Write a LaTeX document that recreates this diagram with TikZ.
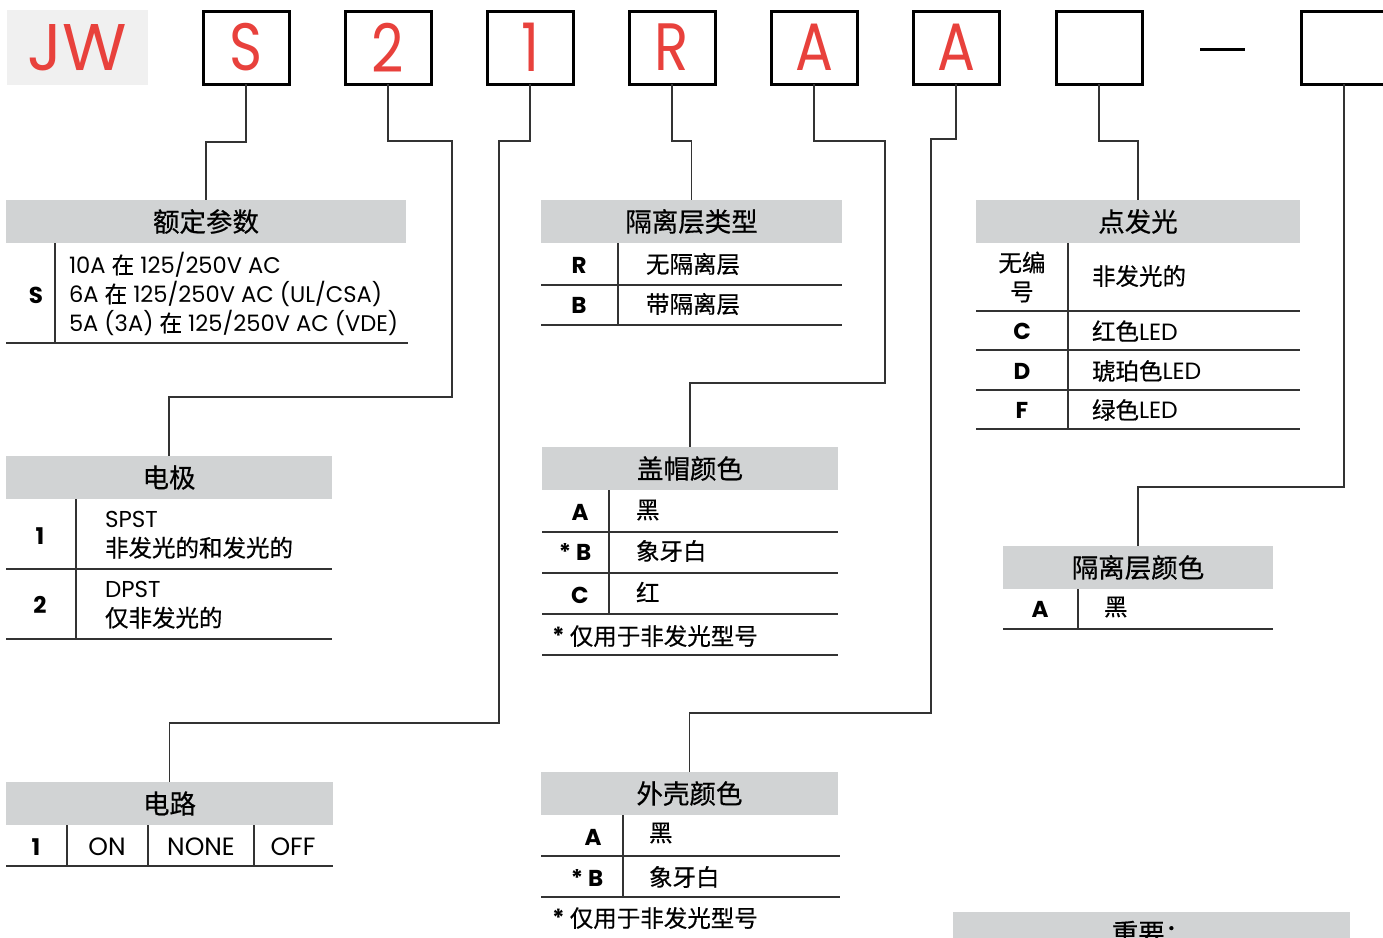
\documentclass[tikz,border=0pt]{standalone}
\usepackage{fontspec}
\setmainfont{Poppins}
\newfontfamily\cjk[FakeBold=0.5]{Noto Sans CJK SC}
\newfontfamily\topf[FakeStretch=0.84]{Poppins}
\newfontfamily\jwf{Poppins}
\definecolor{jwred}{HTML}{E8413C}
\definecolor{hdrgray}{HTML}{D1D3D4}
\definecolor{jwgray}{HTML}{F0F0F0}
\definecolor{linegray}{HTML}{333333}
\tikzset{
 every node/.style={inner sep=0pt, outer sep=0pt},
 cbox/.style={draw=black, line width=3pt, minimum width=86pt, minimum height=73pt, text=jwred, font=\topf\fontsize{67}{67}\selectfont},
 hdr/.style={fill=hdrgray, minimum height=43pt, font=\cjk\fontsize{26.5}{30}\selectfont},
 conn/.style={draw=linegray, line width=1.3pt},
 rulel/.style={draw=linegray, line width=1.6pt},
 keyl/.style={font=\bfseries\fontsize{23}{26}\selectfont},
 zh/.style={font=\cjk\fontsize{23.5}{29}\selectfont, anchor=west},
 lat/.style={font=\fontsize{23}{29}\selectfont, anchor=west},
}
\begin{document}
\begin{tikzpicture}[x=1pt,y=-1pt]
\useasboundingbox (0,0) rectangle (1383,937);
\clip (0,0) rectangle (1383,937);
\fill[white] (0,0) rectangle (1383,937);

% top code row
\node[fill=jwgray, minimum width=141pt, minimum height=75pt, text=jwred, font=\jwf\fontsize{66}{66}\selectfont] (jw) at (77.5,47.5) {JW};
\node[cbox] (bS) at (246,47.5) {S};
\node[cbox] (b2) at (388,47.5) {2};
\node[cbox] (b1) at (530,47.5) {1};
\node[cbox] (bR) at (672,47.5) {R};
\node[cbox] (bA1) at (814,47.5) {A};
\node[cbox] (bA2) at (956,47.5) {A};
\node[cbox] (bE) at (1099,47.5) {};
\coordinate (d1) at (1200,49);
\coordinate (d2) at (1245,49);
\draw[line width=3pt] (d1) -- (d2);
\node[cbox] (bL) at (1344,47.5) {};

% table 1
\node[hdr, minimum width=400pt] (h1) at (206,221.5) {额定参数};
\draw[rulel] (6,343) -- (408,343);
\draw[conn] (55,243) -- (55,343);
\node[keyl] (k1) at (36,295) {S};
\node[lat, align=left, font=\fontsize{22.6}{29}\selectfont] (v1) at (69,294) {10A {\cjk 在} 125/250V AC\\6A {\cjk 在} 125/250V AC (UL/CSA)\\5A (3A) {\cjk 在} 125/250V AC (VDE)};

% table 2
\node[hdr, minimum width=326pt] (h2) at (169,477.5) {电极};
\draw[rulel] (6,569) -- (332,569);
\draw[rulel] (6,639) -- (332,639);
\draw[conn] (76,499) -- (76,639);
\node[keyl] (k21) at (40,536) {1};
\node[keyl] (k22) at (40,605) {2};
\node[lat, align=left] (v21) at (105,535) {SPST\\{\cjk\fontsize{23.5}{29}\selectfont 非发光的和发光的}};
\node[lat, align=left] (v22) at (105,605) {DPST\\{\cjk\fontsize{23.5}{29}\selectfont 仅非发光的}};

% table 3
\node[hdr, minimum width=327pt] (h3) at (169.5,803.5) {电路};
\draw[rulel] (6,866) -- (333,866);
\draw[conn] (67,825) -- (67,866);
\draw[conn] (148,825) -- (148,866);
\draw[conn] (254,825) -- (254,866);
\node[keyl] (k3) at (36,847) {1};
\node[font=\fontsize{25}{28}\selectfont] (v31) at (107,847) {ON};
\node[font=\fontsize{25}{28}\selectfont] (v32) at (201,847) {NONE};
\node[font=\fontsize{25}{28}\selectfont] (v33) at (293,847) {OFF};

% table 4
\node[hdr, minimum width=301pt] (h4) at (691.5,221.5) {隔离层类型};
\draw[rulel] (541,285) -- (842,285);
\draw[rulel] (541,325) -- (842,325);
\draw[conn] (618,243) -- (618,325);
\node[keyl] (k41) at (579,265) {R};
\node[keyl] (k42) at (579,305) {B};
\node[zh] (v41) at (646,264) {无隔离层};
\node[zh] (v42) at (646,304) {带隔离层};

% table 5
\node[hdr, minimum width=296pt] (h5) at (690,468.5) {盖帽颜色};
\draw[rulel] (542,532) -- (838,532);
\draw[rulel] (542,573) -- (838,573);
\draw[rulel] (542,614) -- (838,614);
\draw[rulel] (542,655) -- (838,655);
\draw[conn] (609,490) -- (609,614);
\node[keyl] (k51) at (580,512) {A};
\node[keyl] (k52) at (575,552) {* B};
\node[keyl] (k53) at (580,595) {C};
\node[zh] (v51) at (636,510) {黑};
\node[zh] (v52) at (636,551) {象牙白};
\node[zh] (v53) at (636,592) {红};
\node[zh] (n5) at (552,636) {{\rmfamily\bfseries *} 仅用于非发光型号};

% table 6
\node[hdr, minimum width=297pt] (h6) at (689.5,793.5) {外壳颜色};
\draw[rulel] (541,856) -- (840,856);
\draw[rulel] (541,897) -- (840,897);
\draw[conn] (623,815) -- (623,897);
\node[keyl] (k61) at (593,837) {A};
\node[keyl] (k62) at (587,878) {* B};
\node[zh] (v61) at (649,833) {黑};
\node[zh] (v62) at (649,877) {象牙白};
\node[zh] (n6) at (552,918) {{\rmfamily\bfseries *} 仅用于非发光型号};

% table 7
\node[hdr, minimum width=324pt] (h7) at (1138,221.5) {点发光};
\draw[rulel] (976,311) -- (1300,311);
\draw[rulel] (976,350) -- (1300,350);
\draw[rulel] (976,390) -- (1300,390);
\draw[rulel] (976,429) -- (1300,429);
\draw[conn] (1068,243) -- (1068,429);
\node[font=\cjk\fontsize{23.5}{29}\selectfont, align=center] (k70) at (1022,277) {无编\\号};
\node[zh] (v70) at (1092,276) {非发光的};
\node[keyl] (k71) at (1022,331) {C};
\node[keyl] (k72) at (1022,371) {D};
\node[keyl] (k73) at (1022,410) {F};
\node[zh] (v71) at (1092,331) {红色{\rmfamily LED}};
\node[zh] (v72) at (1092,371) {琥珀色{\rmfamily LED}};
\node[zh] (v73) at (1092,410) {绿色{\rmfamily LED}};

% table 8
\node[hdr, minimum width=270pt] (h8) at (1138,567.5) {隔离层颜色};
\draw[rulel] (1003,629) -- (1273,629);
\draw[conn] (1078,589) -- (1078,629);
\node[keyl] (k8) at (1040,609) {A};
\node[zh] (v8) at (1104,607) {黑};

% table 9 (cut off at the picture's lower edge, as in the reference)
\node[hdr, minimum width=397pt] (h9) at (1151.5,933) {重要：};

% connectors
\draw[conn] (bS.south) -- ++(0,58) -| (h1.north);
\draw[conn] (b2.south) -- ++(0,57) -- ++(64,0) -- ++(0,256) -| (h2.north);
\draw[conn] (b1.south) -- ++(0,57) -- ++(-31,0) -- ++(0,582) -| (h3.north);
\draw[conn] (bR.south) -- ++(0,57) -| (h4.north);
\draw[conn] (bA1.south) -- ++(0,57) -- ++(71,0) -- ++(0,242) -| (h5.north);
\draw[conn] (bA2.south) -- ++(0,55) -- ++(-25,0) -- ++(0,574) -| (h6.north);
\draw[conn] (bE.south) -- ++(0,57) -| (h7.north);
\draw[conn] (bL.south) -- ++(0,403) -| (h8.north);
\end{tikzpicture}
\end{document}
